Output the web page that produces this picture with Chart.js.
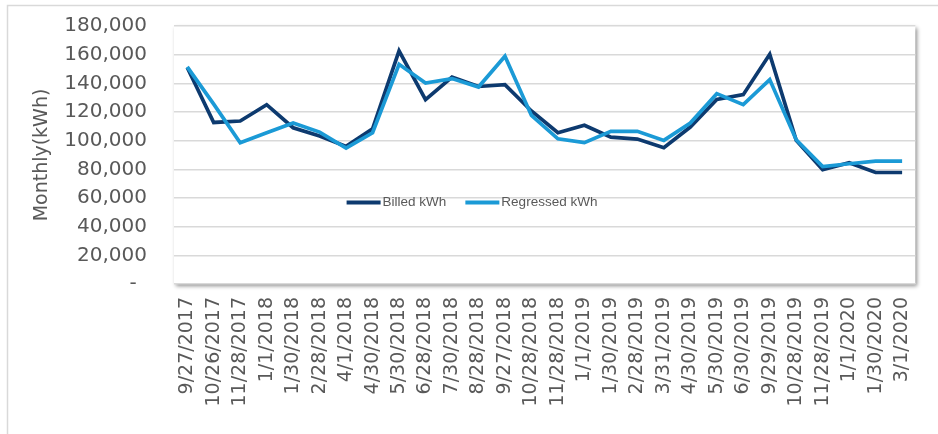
<!DOCTYPE html>
<html><head><meta charset="utf-8">
<script src="https://cdn.jsdelivr.net/npm/chart.js@4"></script>
<style>html,body{margin:0;padding:0;background:#fff;} #wrap{width:938px;height:434px;position:relative;}</style>
</head><body><div id="wrap"><canvas id="c" width="938" height="434"></canvas></div>
<script>
const categories = ["9/27/2017","10/26/2017","11/28/2017","1/1/2018","1/30/2018","2/28/2018","4/1/2018","4/30/2018","5/30/2018","6/28/2018","7/30/2018","8/28/2018","9/27/2018","10/28/2018","11/28/2018","1/1/2019","1/30/2019","2/28/2019","3/31/2019","4/30/2019","5/30/2019","6/30/2019","9/29/2019","10/28/2019","11/28/2019","1/1/2020","1/30/2020","3/1/2020"];
const billedKWh = [151000,112700,113700,125100,109000,103200,96000,108300,162600,128600,144400,137800,139100,120700,105500,110700,102500,101100,95100,109500,128800,132100,160300,100200,79700,84600,77800,77800];
const regressedKWh = [151500,125500,98600,105500,112300,106000,94800,105500,153300,140200,143300,137400,158900,117600,101300,98600,106500,106500,100200,112300,132800,125100,142600,100600,82000,83900,85700,85700];
const seriesNames = ["Billed kWh","Regressed kWh"];
const yAxisTitle = "Monthly(kWh)";
const yMin = 0, yMax = 180000, yStep = 20000;

const NAVY = '#0d3a6f', LIGHT = '#1b9ad6', TXT = '#595959', GRID = '#d9d9d9';

const framePlugin = {
  id: 'frame',
  beforeDraw(chart) {
    const {ctx, chartArea: a} = chart;
    ctx.save();
    ctx.strokeStyle = GRID; ctx.lineWidth = 1.5;
    ctx.strokeRect(7.5, 5.5, chart.width + 20, chart.height + 20);
    ctx.shadowColor = 'rgba(0,0,0,0.45)';
    ctx.shadowBlur = 4; ctx.shadowOffsetX = 2; ctx.shadowOffsetY = 2;
    ctx.fillStyle = '#fff';
    ctx.fillRect(a.left, a.top, a.right - a.left, a.bottom - a.top);
    ctx.restore();
  }
};

const legendPlugin = {
  id: 'innerLegend',
  afterDraw(chart) {
    const {ctx} = chart;
    const ds = chart.data.datasets;
    ctx.save();
    ctx.font = '13.5px "Liberation Sans", Arial, sans-serif';
    ctx.textBaseline = 'middle';
    const lineLen = 34, gap = 2, itemGap = 19;
    const widths = ds.map(d => lineLen + gap + ctx.measureText(d.label).width);
    const total = widths.reduce((s, w) => s + w, 0) + itemGap * (ds.length - 1);
    let x = chart.width / 2 + 3 - total / 2;
    const y = 202.5;
    ds.forEach((d, i) => {
      ctx.strokeStyle = d.borderColor; ctx.lineWidth = 4;
      ctx.beginPath(); ctx.moveTo(x, y); ctx.lineTo(x + lineLen, y); ctx.stroke();
      ctx.fillStyle = TXT;
      ctx.fillText(d.label, x + lineLen + gap, y);
      x += widths[i] + itemGap;
    });
    ctx.restore();
  }
};

new Chart(document.getElementById('c'), {
  type: 'line',
  data: {
    labels: categories,
    datasets: [
      {label: seriesNames[0], data: billedKWh, borderColor: NAVY, backgroundColor: NAVY, borderWidth: 3.7, pointRadius: 0, tension: 0, order: 1},
      {label: seriesNames[1], data: regressedKWh, borderColor: LIGHT, backgroundColor: LIGHT, borderWidth: 3.7, pointRadius: 0, tension: 0, order: 0}
    ]
  },
  options: {
    responsive: false,
    animation: false,
    layout: {padding: {top: 26, right: 5, left: 0, bottom: 0}},
    plugins: {legend: {display: false}, tooltip: {enabled: false}},
    scales: {
      x: {
        offset: true,
        grid: {display: false, drawTicks: false},
        border: {display: false},
        ticks: {
          autoSkip: false, minRotation: 90, maxRotation: 90, padding: 13,
          color: TXT, font: {family: '"DejaVu Sans", sans-serif', size: 19}
        },
        afterFit(s) { s.height = 150; }
      },
      y: {
        min: yMin, max: yMax,
        grid: {color: GRID, lineWidth: 1.5, drawTicks: true, tickLength: 27, tickColor: 'rgba(0,0,0,0)'},
        border: {display: false},
        ticks: {
          stepSize: yStep, padding: 0, color: TXT,
          font: {family: '"DejaVu Sans", sans-serif', size: 20},
          callback: v => v === 0 ? '- \u2009' : v.toLocaleString('en-US')
        },
        title: {display: true, text: yAxisTitle, color: TXT, padding: {top: 31, bottom: 0},
          font: {family: '"DejaVu Sans", sans-serif', size: 19}},
        afterFit(s) { s.width = 174; }
      }
    }
  },
  plugins: [framePlugin, legendPlugin]
});
</script>
</body></html>
